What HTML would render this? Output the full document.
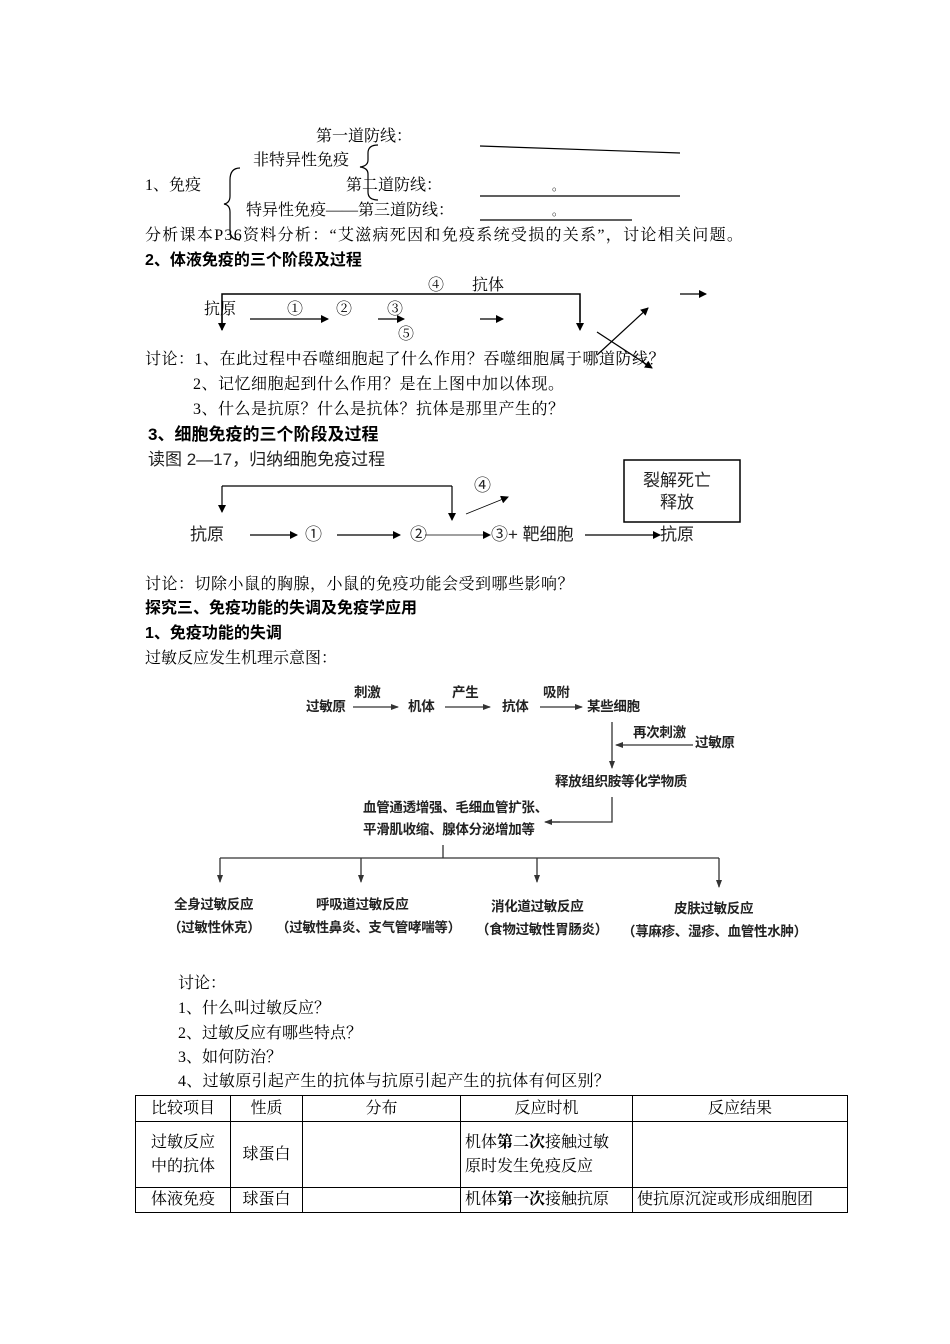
<!DOCTYPE html>
<html><head><meta charset="utf-8"><style>
body{margin:0;background:#fff}
#p{position:relative;width:950px;height:1344px;overflow:hidden;font-family:"Liberation Serif","Noto Serif CJK SC","Noto Sans CJK SC",serif;color:#000}
.t{position:absolute;white-space:nowrap;font-size:16px;line-height:20px}
.b{font-weight:bold;font-family:"Liberation Sans","Noto Sans CJK SC",sans-serif}
.s{font-family:"Liberation Sans","Noto Sans CJK SC",sans-serif;font-size:15px;color:#222}
.g{font-family:"Liberation Sans","Noto Sans CJK SC",sans-serif;font-size:13.5px;color:#222;font-weight:bold;letter-spacing:-0.3px}
svg{position:absolute;left:0;top:0}
table{position:absolute;left:135px;top:1095px;border-collapse:collapse;font-size:16px}
td{border:1px solid #000;text-align:center;padding:0 4px;line-height:24px}
</style></head><body><div id="p">
<svg width="950" height="1344" viewBox="0 0 950 1344">
<defs><marker id="a" markerWidth="8" markerHeight="8" refX="7" refY="4" orient="auto" markerUnits="userSpaceOnUse"><path d="M0,0 L8,4 L0,8 z" fill="#000"/></marker>
<marker id="c" markerWidth="8" markerHeight="8" refX="7" refY="4" orient="auto" markerUnits="userSpaceOnUse"><path d="M0,1 L8,4 L0,7 z" fill="#333"/></marker></defs>
<g stroke="#000" fill="none" stroke-width="1.2">
<line x1="480" y1="146" x2="680" y2="153"/><line x1="480" y1="196" x2="680" y2="196"/><line x1="480" y1="220" x2="632" y2="220"/>
<path d="M240,168 Q230,168 230,180 L230,196 Q230,203 224,204 Q230,205 230,212 L230,230 Q230,240 240,240"/>
<path d="M378,145 Q368,145 368,153 L368,160 Q368,166 360,167 Q368,168 368,174 L368,192 Q368,200 378,200"/>
<polyline points="222,330 222,294 580,294 580,322" stroke-width="1.5"/>
<line x1="250" y1="319" x2="328" y2="319" marker-end="url(#a)"/>
<line x1="378" y1="319" x2="404" y2="319" marker-end="url(#a)"/>
<line x1="480" y1="319" x2="503" y2="319" marker-end="url(#a)"/>
<line x1="222" y1="300" x2="222" y2="330" marker-end="url(#a)"/>
<line x1="580" y1="300" x2="580" y2="330" marker-end="url(#a)"/>
<line x1="597" y1="355" x2="648" y2="308" marker-end="url(#a)"/>
<line x1="597" y1="332" x2="652" y2="368" marker-end="url(#a)"/>
<line x1="680" y1="294" x2="706" y2="294" marker-end="url(#a)"/>
<polyline points="222,486 452,486"/>
<line x1="222" y1="486" x2="222" y2="512" marker-end="url(#a)"/>
<line x1="452" y1="486" x2="452" y2="520" marker-end="url(#a)"/>
<line x1="250" y1="535" x2="297" y2="535" marker-end="url(#a)"/>
<line x1="337" y1="535" x2="400" y2="535" marker-end="url(#a)"/>
<line x1="425" y1="535" x2="490" y2="535" stroke-width="0.8" marker-end="url(#a)"/>
<line x1="466" y1="514" x2="508" y2="497" stroke-width="0.8" marker-end="url(#a)"/>
<line x1="585" y1="535" x2="660" y2="535" marker-end="url(#a)"/>
<rect x="624" y="460" width="116" height="62" stroke-width="1.5"/>
</g>
<g stroke="#333" fill="none" stroke-width="1.3">
<line x1="353" y1="707" x2="398" y2="707" marker-end="url(#c)"/>
<line x1="445" y1="707" x2="490" y2="707" marker-end="url(#c)"/>
<line x1="540" y1="707" x2="582" y2="707" marker-end="url(#c)"/>
<line x1="612" y1="722" x2="612" y2="768" marker-end="url(#c)"/>
<line x1="693" y1="745" x2="616" y2="745" marker-end="url(#c)"/>
<polyline points="612,797 612,822 548,822"/><line x1="560" y1="822" x2="545" y2="822" marker-end="url(#c)"/>
<line x1="443" y1="845" x2="443" y2="858"/>
<line x1="220" y1="858" x2="719" y2="858"/>
<line x1="220" y1="858" x2="220" y2="882" marker-end="url(#c)"/>
<line x1="361" y1="858" x2="361" y2="882" marker-end="url(#c)"/>
<line x1="537" y1="858" x2="537" y2="882" marker-end="url(#c)"/>
<line x1="719" y1="858" x2="719" y2="887" marker-end="url(#c)"/>
</g>
</svg>
<div class="t" style="left:316px;top:127px">第一道防线：</div>
<div class="t" style="left:253px;top:151px">非特异性免疫</div>
<div class="t" style="left:145px;top:176px">1、免疫</div>
<div class="t" style="left:346px;top:176px">第二道防线：</div>
<div class="t" style="left:552px;top:176px;font-size:12px">。</div>
<div class="t" style="left:246px;top:201px">特异性免疫——第三道防线：</div>
<div class="t" style="left:552px;top:201px;font-size:12px">。</div>
<div class="t" style="left:145px;top:226px;letter-spacing:1.3px">分析课本P36资料分析：“艾滋病死因和免疫系统受损的关系”，讨论相关问题。</div>
<div class="t b" style="left:145px;top:251px">2、体液免疫的三个阶段及过程</div>
<div class="t" style="left:428px;top:276px">④</div><div class="t" style="left:472px;top:276px">抗体</div>
<div class="t" style="left:204px;top:300px">抗原</div>
<div class="t" style="left:287px;top:300px">①</div><div class="t" style="left:336px;top:300px">②</div><div class="t" style="left:387px;top:300px">③</div>
<div class="t" style="left:398px;top:325px">⑤</div>
<div class="t" style="left:145px;top:350px;letter-spacing:0.5px">讨论：1、在此过程中吞噬细胞起了什么作用？吞噬细胞属于哪道防线？</div>
<div class="t" style="left:193px;top:375px;letter-spacing:0.5px">2、记忆细胞起到什么作用？是在上图中加以体现。</div>
<div class="t" style="left:193px;top:400px;letter-spacing:0.5px">3、什么是抗原？什么是抗体？抗体是那里产生的？</div>
<div class="t b" style="left:148px;top:425px;font-size:17px">3、细胞免疫的三个阶段及过程</div>
<div class="t s" style="left:148px;top:450px;font-size:17px">读图 2—17，归纳细胞免疫过程</div>
<div class="t s" style="left:474px;top:476px;font-size:17px">④</div>
<div class="t s" style="left:643px;top:471px;font-size:17px">裂解死亡</div>
<div class="t s" style="left:660px;top:493px;font-size:17px">释放</div>
<div class="t s" style="left:190px;top:525px;font-size:17px">抗原</div>
<div class="t s" style="left:305px;top:525px;font-size:17px">①</div>
<div class="t s" style="left:410px;top:525px;font-size:17px">②</div>
<div class="t s" style="left:491px;top:525px;font-size:17px">③+ 靶细胞</div>
<div class="t s" style="left:660px;top:525px;font-size:17px">抗原</div>
<div class="t" style="left:145px;top:575px;letter-spacing:0.5px">讨论：切除小鼠的胸腺，小鼠的免疫功能会受到哪些影响？</div>
<div class="t b" style="left:145px;top:599px">探究三、免疫功能的失调及免疫学应用</div>
<div class="t b" style="left:145px;top:624px">1、免疫功能的失调</div>
<div class="t" style="left:145px;top:649px">过敏反应发生机理示意图：</div>
<div class="t g" style="left:306px;top:697px">过敏原</div>
<div class="t g" style="left:354px;top:683px">刺激</div>
<div class="t g" style="left:408px;top:697px">机体</div>
<div class="t g" style="left:452px;top:683px">产生</div>
<div class="t g" style="left:502px;top:697px">抗体</div>
<div class="t g" style="left:543px;top:683px">吸附</div>
<div class="t g" style="left:587px;top:697px">某些细胞</div>
<div class="t g" style="left:633px;top:723px">再次刺激</div>
<div class="t g" style="left:695px;top:733px">过敏原</div>
<div class="t g" style="left:555px;top:772px">释放组织胺等化学物质</div>
<div class="t g" style="left:363px;top:798px">血管通透增强、毛细血管扩张、</div>
<div class="t g" style="left:363px;top:820px">平滑肌收缩、腺体分泌增加等</div>
<div class="t g" style="left:174px;top:895px">全身过敏反应</div>
<div class="t g" style="left:168px;top:918px">（过敏性休克）</div>
<div class="t g" style="left:316px;top:895px">呼吸道过敏反应</div>
<div class="t g" style="left:276px;top:918px">（过敏性鼻炎、支气管哮喘等）</div>
<div class="t g" style="left:491px;top:897px">消化道过敏反应</div>
<div class="t g" style="left:476px;top:920px">（食物过敏性胃肠炎）</div>
<div class="t g" style="left:674px;top:899px">皮肤过敏反应</div>
<div class="t g" style="left:622px;top:922px">（荨麻疹、湿疹、血管性水肿）</div>
<div class="t" style="left:178px;top:974px">讨论：</div>
<div class="t" style="left:178px;top:999px">1、什么叫过敏反应？</div>
<div class="t" style="left:178px;top:1024px">2、过敏反应有哪些特点？</div>
<div class="t" style="left:178px;top:1048px">3、如何防治？</div>
<div class="t" style="left:178px;top:1072px;letter-spacing:0.3px">4、过敏原引起产生的抗体与抗原引起产生的抗体有何区别？</div>
<table>
<tr style="height:26px"><td style="width:86px">比较项目</td><td style="width:63px">性质</td><td style="width:149px">分布</td><td style="width:163px">反应时机</td><td style="width:206px">反应结果</td></tr>
<tr style="height:66px"><td>过敏反应<br>中的抗体</td><td>球蛋白</td><td></td><td style="text-align:left">机体<b>第二次</b>接触过敏<br>原时发生免疫反应</td><td></td></tr>
<tr style="height:25px"><td>体液免疫</td><td>球蛋白</td><td></td><td style="text-align:left">机体<b>第一次</b>接触抗原</td><td style="text-align:left">使抗原沉淀或形成细胞团</td></tr>
</table>
</div></body></html>
